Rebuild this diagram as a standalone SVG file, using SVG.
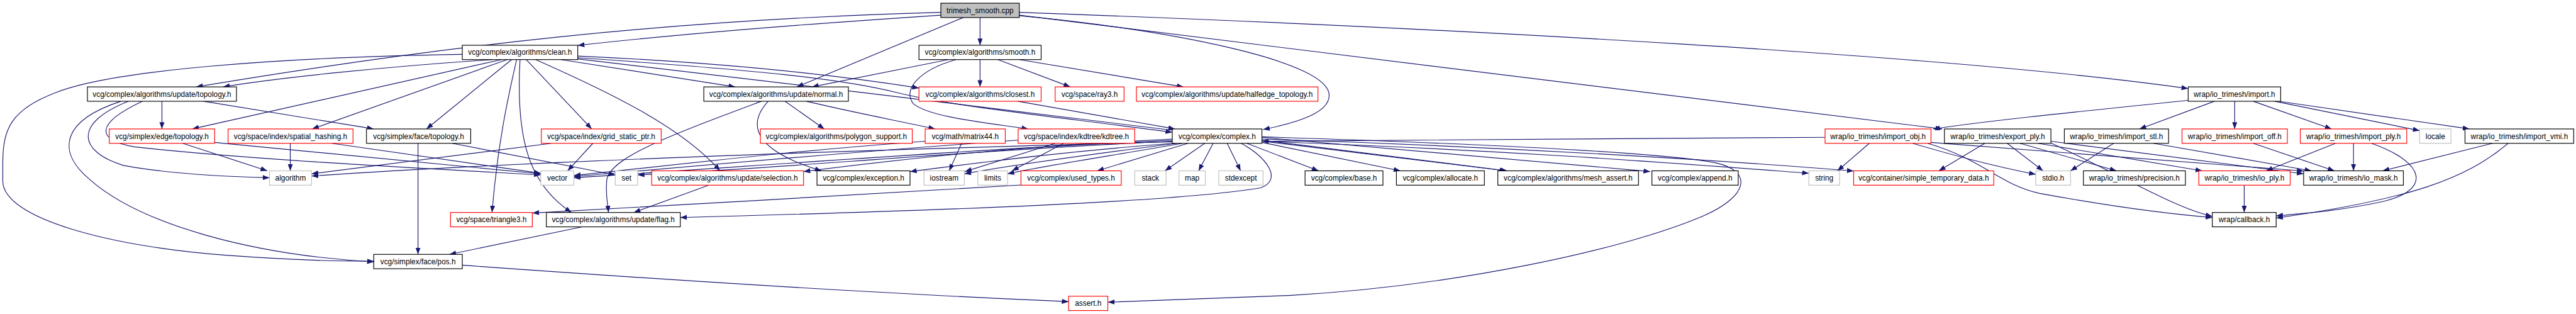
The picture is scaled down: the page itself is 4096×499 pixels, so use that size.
<svg xmlns="http://www.w3.org/2000/svg" width="4096" height="499" viewBox="0 0 4096 499">
<style>
.n rect{fill:#fff;stroke:#000;stroke-width:1.3}
.r rect{stroke:#ff0000}
.g rect{stroke:#bfbfbf}
.root rect{fill:#bfbfbf}
text{font-family:"Liberation Sans",Arial,sans-serif;font-size:13.3px;text-anchor:middle;fill:#000}
.e path{fill:none;stroke:#191970;stroke-width:1.3;marker-end:url(#a)}
</style>
<defs>
<marker id="a" markerUnits="userSpaceOnUse" viewBox="0 0 12 9" markerWidth="12" markerHeight="9" refX="12" refY="4.5" orient="auto">
<path d="M0,0 L12,4.5 L0,9 z" fill="#191970"/>
</marker>
</defs>
<rect width="4096" height="499" fill="#fff"/>
<g transform="scale(0.891)">
<g id="edges" class="e">
<path d="M1749,31.3 L1749,80.7"/>
<path d="M1679,27 C1450,42 1200,62 1031,81"/>
<path d="M1679,22 C1200,35 800,80 350,155"/>
<path d="M1719,31.3 L1422,155"/>
<path d="M1819,28 C2100,55 2372,110 2372,170 C2372,200 2320,218 2254,231"/>
<path d="M1819,22 C2600,50 3500,100 3905,158"/>
<path d="M1819,27 L3466,230"/>
<path d="M825,97 C500,102 200,125 100,165 C20,195 5,230 5,290 L5,323 C5,390 200,440 400,455 C520,464 600,466 667,466"/>
<path d="M879,106.3 C700,118 500,138 398,155"/>
<path d="M895,106.3 L343,230"/>
<path d="M905,106.3 L557,230"/>
<path d="M913,106.3 L761,230"/>
<path d="M922,106.3 C905,180 888,260 878,379"/>
<path d="M928,106.3 C920,250 945,330 1020,379"/>
<path d="M939,106.3 L1056,230"/>
<path d="M956,106.3 C1100,170 1220,230 1285,304.7"/>
<path d="M1001,106.3 L1312,155"/>
<path d="M1031,100 C1300,112 1500,135 1640,157"/>
<path d="M1031,103 C1350,125 1500,140 1600,165 C1700,190 1900,210 2092,236"/>
<path d="M1031,105 C1600,170 2300,260 2688,304.7"/>
<path d="M1749,106.3 L1749,155"/>
<path d="M1692,106.3 C1600,125 1500,145 1449,155"/>
<path d="M1706,106.3 C1640,125 1610,160 1630,185 C1660,210 1770,220 1835,230"/>
<path d="M1781,106.3 L1910,155"/>
<path d="M1819,106.3 L2112,155"/>
<path d="M289,180.6 L289,230"/>
<path d="M363,180.6 L667,230"/>
<path d="M216,180.6 C110,215 100,270 160,320 C250,400 450,455 667,467"/>
<path d="M229,180.6 C130,220 140,270 220,295 C300,310 400,315 481,317"/>
<path d="M254,180.6 C170,220 170,250 240,262 C450,285 750,300 965,312"/>
<path d="M326,255.6 L477,304.7"/>
<path d="M383,254 C600,275 800,295 965,310"/>
<path d="M518,255.6 L518,304.7"/>
<path d="M592,255.6 L965,309"/>
<path d="M746,255.6 L746,453.7"/>
<path d="M807,255.6 L1098,312"/>
<path d="M984,255.6 L556,310"/>
<path d="M1058,255.6 L1013,304.7"/>
<path d="M1359,180.6 C1200,240 1090,280 1083,320 C1080,345 1084,360 1086,379"/>
<path d="M1371,180.6 C1330,225 1350,270 1466,304.7"/>
<path d="M1401,180.6 L1471,230"/>
<path d="M1439,180.6 C1520,200 1600,215 1669,230"/>
<path d="M1816,180.6 L2097,230"/>
<path d="M1716,255.6 L1694,304.7"/>
<path d="M1651,252 C1400,270 1200,295 1024,313"/>
<path d="M1883,255.6 L1722,306"/>
<path d="M1898,255.6 L1806,304.7"/>
<path d="M1817,250 C1500,272 1200,300 1024,315"/>
<path d="M2092,250 C1700,268 1300,300 1024,317"/>
<path d="M2092,252 C1700,270 1400,300 1138,312"/>
<path d="M2092,253 C1500,268 900,290 556,314"/>
<path d="M2092,248 C1800,262 1600,285 1434,306"/>
<path d="M2095,255.6 C1900,270 1750,290 1624,306"/>
<path d="M2100,255.6 C1950,275 1800,295 1721,310"/>
<path d="M2110,255.6 C2000,275 1850,298 1798,310"/>
<path d="M2120,255.6 L1958,304.7"/>
<path d="M2150,255.6 L2079,304.7"/>
<path d="M2165,255.6 L2139,304.7"/>
<path d="M2190,255.6 L2214,304.7"/>
<path d="M2225,255.6 L2353,304.7"/>
<path d="M2252,254 L2499,304.7"/>
<path d="M2252,250 L2690,304.7"/>
<path d="M2252,245 L2945,306"/>
<path d="M2252,252 C2700,268 3000,292 3228,309"/>
<path d="M2252,248 C2700,262 3100,288 3308,305"/>
<path d="M2215,255.6 C2260,280 2290,320 2250,335 C2100,360 1700,375 1214,388"/>
<path d="M2252,244 C2600,255 2950,270 3060,290 C3130,305 3120,350 3040,385 C2900,445 2600,510 2300,527 C2150,533 2050,537 1977,539"/>
<path d="M1822,330 C1600,345 1200,365 950,380"/>
<path d="M3905,179 C3700,200 3550,215 3450,230"/>
<path d="M3952,180.6 L3818,230"/>
<path d="M3988,180.6 L3988,230"/>
<path d="M4021,180.6 L4161,230"/>
<path d="M4059,180.6 L4318,233"/>
<path d="M4069,181 L4407,230"/>
<path d="M3257,245 C2900,247 2500,250 2252,252"/>
<path d="M3336,255.6 L3279,304.7"/>
<path d="M3413,255.6 C3480,275 3550,295 3633,311"/>
<path d="M3446,254 L4111,305"/>
<path d="M3440,255.6 C3540,285 3570,330 3640,345 C3750,365 3850,380 3948,388"/>
<path d="M3542,255.6 L3460,304.7"/>
<path d="M3582,255.6 L3646,304.7"/>
<path d="M3605,255.6 L3777,304.7"/>
<path d="M3637,255.6 L3930,304.7"/>
<path d="M3660,252 L4111,310"/>
<path d="M3660,255 C3800,320 3880,370 3948,386"/>
<path d="M3772,255.6 L3695,304.7"/>
<path d="M3843,255.6 L4125,304.7"/>
<path d="M4021,255.6 L4166,304.7"/>
<path d="M4168,255.6 L4044,304.7"/>
<path d="M4200,255.6 L4200,304.7"/>
<path d="M4232,255.6 C4330,290 4340,340 4250,360 C4180,375 4120,380 4062,385"/>
<path d="M4448,255.6 L4252,304.7"/>
<path d="M4476,255.6 C4400,320 4300,355 4062,389"/>
<path d="M4005,330.3 L4005,379"/>
<path d="M1039,404.6 L802,453.7"/>
<path d="M1265,330.3 L1131,379"/>
<path d="M825,473 C1200,500 1600,525 1907,538"/>
</g>
<g id="n0" class="n root"><rect x="1679" y="5.7" width="140" height="25.6"/><text x="1749" y="23.2">trimesh_smooth.cpp</text></g>
<g id="n1" class="n"><rect x="825" y="80.7" width="206" height="25.6"/><text x="928" y="98.2">vcg/complex/algorithms/clean.h</text></g>
<g id="n2" class="n"><rect x="1640" y="80.7" width="218" height="25.6"/><text x="1749" y="98.2">vcg/complex/algorithms/smooth.h</text></g>
<g id="n3" class="n"><rect x="156" y="155" width="266" height="25.6"/><text x="289" y="172.5">vcg/complex/algorithms/update/topology.h</text></g>
<g id="n4" class="n"><rect x="1256" y="155" width="258" height="25.6"/><text x="1385" y="172.5">vcg/complex/algorithms/update/normal.h</text></g>
<g id="n5" class="n r"><rect x="1640" y="155" width="218" height="25.6"/><text x="1749" y="172.5">vcg/complex/algorithms/closest.h</text></g>
<g id="n6" class="n r"><rect x="1883" y="155" width="123" height="25.6"/><text x="1944.5" y="172.5">vcg/space/ray3.h</text></g>
<g id="n7" class="n r"><rect x="2028" y="155" width="324" height="25.6"/><text x="2190" y="172.5">vcg/complex/algorithms/update/halfedge_topology.h</text></g>
<g id="n8" class="n"><rect x="3905" y="155" width="165" height="25.6"/><text x="3987.5" y="172.5">wrap/io_trimesh/import.h</text></g>
<g id="n9" class="n r"><rect x="195" y="230" width="188" height="25.6"/><text x="289" y="247.5">vcg/simplex/edge/topology.h</text></g>
<g id="n10" class="n r"><rect x="407" y="230" width="223" height="25.6"/><text x="518.5" y="247.5">vcg/space/index/spatial_hashing.h</text></g>
<g id="n11" class="n"><rect x="654" y="230" width="186" height="25.6"/><text x="747" y="247.5">vcg/simplex/face/topology.h</text></g>
<g id="n12" class="n r"><rect x="966" y="230" width="214" height="25.6"/><text x="1073" y="247.5">vcg/space/index/grid_static_ptr.h</text></g>
<g id="n13" class="n r"><rect x="1357" y="230" width="271" height="25.6"/><text x="1492.5" y="247.5">vcg/complex/algorithms/polygon_support.h</text></g>
<g id="n14" class="n r"><rect x="1651" y="230" width="143" height="25.6"/><text x="1722.5" y="247.5">vcg/math/matrix44.h</text></g>
<g id="n15" class="n r"><rect x="1817" y="230" width="208" height="25.6"/><text x="1921" y="247.5">vcg/space/index/kdtree/kdtree.h</text></g>
<g id="n16" class="n"><rect x="2092" y="230" width="160" height="25.6"/><text x="2172" y="247.5">vcg/complex/complex.h</text></g>
<g id="n17" class="n r"><rect x="3257" y="230" width="189" height="25.6"/><text x="3351.5" y="247.5">wrap/io_trimesh/import_obj.h</text></g>
<g id="n18" class="n"><rect x="3470" y="230" width="190" height="25.6"/><text x="3565" y="247.5">wrap/io_trimesh/export_ply.h</text></g>
<g id="n19" class="n"><rect x="3684" y="230" width="186" height="25.6"/><text x="3777" y="247.5">wrap/io_trimesh/import_stl.h</text></g>
<g id="n20" class="n r"><rect x="3894" y="230" width="188" height="25.6"/><text x="3988" y="247.5">wrap/io_trimesh/import_off.h</text></g>
<g id="n21" class="n r"><rect x="4105" y="230" width="190" height="25.6"/><text x="4200" y="247.5">wrap/io_trimesh/import_ply.h</text></g>
<g id="n22" class="n g"><rect x="4318" y="230" width="56" height="25.6"/><text x="4346" y="247.5">locale</text></g>
<g id="n23" class="n"><rect x="4399" y="230" width="194" height="25.6"/><text x="4496" y="247.5">wrap/io_trimesh/import_vmi.h</text></g>
<g id="n24" class="n g"><rect x="481" y="304.7" width="75" height="25.6"/><text x="518.5" y="322.2">algorithm</text></g>
<g id="n25" class="n g"><rect x="965" y="304.7" width="59" height="25.6"/><text x="994.5" y="322.2">vector</text></g>
<g id="n26" class="n g"><rect x="1098" y="304.7" width="40" height="25.6"/><text x="1118" y="322.2">set</text></g>
<g id="n27" class="n r"><rect x="1163" y="304.7" width="271" height="25.6"/><text x="1298.5" y="322.2">vcg/complex/algorithms/update/selection.h</text></g>
<g id="n28" class="n"><rect x="1458" y="304.7" width="166" height="25.6"/><text x="1541" y="322.2">vcg/complex/exception.h</text></g>
<g id="n29" class="n g"><rect x="1649" y="304.7" width="72" height="25.6"/><text x="1685" y="322.2">iostream</text></g>
<g id="n30" class="n g"><rect x="1745" y="304.7" width="53" height="25.6"/><text x="1771.5" y="322.2">limits</text></g>
<g id="n31" class="n r"><rect x="1822" y="304.7" width="179" height="25.6"/><text x="1911.5" y="322.2">vcg/complex/used_types.h</text></g>
<g id="n32" class="n g"><rect x="2025" y="304.7" width="56" height="25.6"/><text x="2053" y="322.2">stack</text></g>
<g id="n33" class="n g"><rect x="2104" y="304.7" width="47" height="25.6"/><text x="2127.5" y="322.2">map</text></g>
<g id="n34" class="n g"><rect x="2175" y="304.7" width="79" height="25.6"/><text x="2214.5" y="322.2">stdexcept</text></g>
<g id="n35" class="n"><rect x="2329" y="304.7" width="139" height="25.6"/><text x="2398.5" y="322.2">vcg/complex/base.h</text></g>
<g id="n36" class="n"><rect x="2492" y="304.7" width="157" height="25.6"/><text x="2570.5" y="322.2">vcg/complex/allocate.h</text></g>
<g id="n37" class="n"><rect x="2673" y="304.7" width="251" height="25.6"/><text x="2798.5" y="322.2">vcg/complex/algorithms/mesh_assert.h</text></g>
<g id="n38" class="n"><rect x="2948" y="304.7" width="154" height="25.6"/><text x="3025" y="322.2">vcg/complex/append.h</text></g>
<g id="n39" class="n g"><rect x="3228" y="304.7" width="55" height="25.6"/><text x="3255.5" y="322.2">string</text></g>
<g id="n40" class="n r"><rect x="3308" y="304.7" width="250" height="25.6"/><text x="3433" y="322.2">vcg/container/simple_temporary_data.h</text></g>
<g id="n41" class="n g"><rect x="3633" y="304.7" width="62" height="25.6"/><text x="3664" y="322.2">stdio.h</text></g>
<g id="n42" class="n"><rect x="3718" y="304.7" width="182" height="25.6"/><text x="3809" y="322.2">wrap/io_trimesh/precision.h</text></g>
<g id="n43" class="n r"><rect x="3924" y="304.7" width="163" height="25.6"/><text x="4005.5" y="322.2">wrap/io_trimesh/io_ply.h</text></g>
<g id="n44" class="n"><rect x="4111" y="304.7" width="178" height="25.6"/><text x="4200" y="322.2">wrap/io_trimesh/io_mask.h</text></g>
<g id="n45" class="n r"><rect x="804" y="379" width="146" height="25.6"/><text x="877" y="396.5">vcg/space/triangle3.h</text></g>
<g id="n46" class="n"><rect x="975" y="379" width="239" height="25.6"/><text x="1094.5" y="396.5">vcg/complex/algorithms/update/flag.h</text></g>
<g id="n47" class="n"><rect x="3948" y="379" width="114" height="25.6"/><text x="4005" y="396.5">wrap/callback.h</text></g>
<g id="n48" class="n"><rect x="667" y="453.7" width="158" height="25.6"/><text x="746" y="471.2">vcg/simplex/face/pos.h</text></g>
<g id="n49" class="n r"><rect x="1907" y="528.3" width="70" height="25.6"/><text x="1942" y="545.8">assert.h</text></g>
</g>
</svg>
